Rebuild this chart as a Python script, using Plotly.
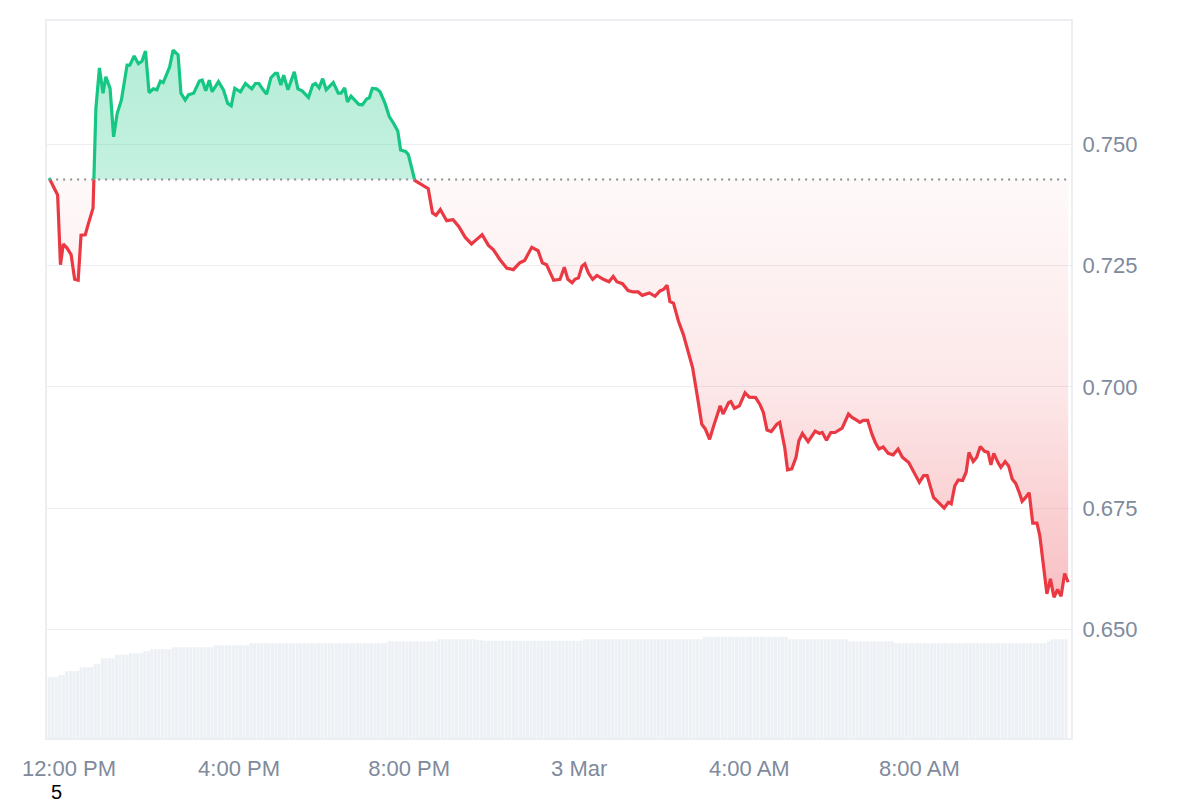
import pandas as pd
import plotly.graph_objects as go

# ---------------- data ----------------
START = "2025-03-02 11:32"
BASELINE = 0.7428

minutes = [0, 6, 12, 16, 20, 25, 31, 36, 41, 45, 51, 55, 62, 66, 71, 76, 80, 86, 91, 96,
           102, 110, 114, 120, 126, 131, 136, 141, 147, 152, 157, 161, 170, 175, 182, 186, 192, 197, 204, 212,
           216, 221, 226, 230, 239, 246, 252, 257, 262, 270, 277, 281, 286, 291, 296, 302, 307, 313, 319, 322,
           327, 331, 337, 346, 351, 357, 366, 372, 376, 381, 386, 391, 396, 401, 408, 412, 417, 421, 426, 432,
           437, 442, 448, 452, 456, 462, 467, 474, 480, 486, 492, 496, 503, 507, 516, 525, 535, 541, 546, 552,
           561, 570, 578, 587, 596, 603, 611, 620, 627, 636, 646, 655, 664, 671, 681, 690, 696, 702, 712, 721,
           727, 732, 738, 742, 747, 752, 756, 761, 767, 773, 782, 790, 796, 801, 809, 817, 824, 831, 837, 847,
           855, 862, 867, 872, 876, 881, 888, 895, 903, 908, 915, 921, 926, 932, 937, 942, 947, 951, 959, 962,
           967, 974, 982, 988, 997, 1003, 1008, 1013, 1019, 1027, 1031, 1038, 1042, 1048, 1054, 1058, 1063, 1071, 1081, 1087,
           1091, 1097, 1103, 1109, 1119, 1128, 1133, 1140, 1144, 1149, 1155, 1161, 1166, 1171, 1177, 1184, 1191, 1198, 1204, 1213,
           1220, 1228, 1234, 1239, 1248, 1255, 1263, 1269, 1273, 1278, 1283, 1289, 1294, 1298, 1304, 1309, 1314, 1320, 1325, 1329,
           1333, 1339, 1343, 1349, 1354, 1359, 1364, 1369, 1373, 1378, 1383, 1388, 1394, 1398, 1403, 1408, 1413, 1418, 1423, 1428,
           1433, 1438]

prices = [0.7431, 0.7414, 0.7396, 0.7252, 0.7295, 0.7287, 0.7273, 0.7222, 0.7220, 0.7313, 0.7314, 0.7335, 0.7369, 0.7575, 0.7658, 0.7606, 0.7640, 0.7616, 0.7516, 0.7564,
          0.7592, 0.7664, 0.7664, 0.7683, 0.7667, 0.7672, 0.7693, 0.7607, 0.7615, 0.7613, 0.7631, 0.7628, 0.7660, 0.7695, 0.7685, 0.7606, 0.7592, 0.7603, 0.7606, 0.7631,
          0.7633, 0.7611, 0.7633, 0.7609, 0.7630, 0.7613, 0.7585, 0.7580, 0.7616, 0.7609, 0.7626, 0.7621, 0.7615, 0.7626, 0.7626, 0.7613, 0.7604, 0.7638, 0.7647, 0.7647,
          0.7623, 0.7643, 0.7613, 0.7650, 0.7615, 0.7611, 0.7597, 0.7623, 0.7626, 0.7617, 0.7636, 0.7613, 0.7621, 0.7628, 0.7606, 0.7606, 0.7617, 0.7588, 0.7600, 0.7590,
          0.7583, 0.7582, 0.7594, 0.7597, 0.7616, 0.7615, 0.7609, 0.7585, 0.7558, 0.7544, 0.7528, 0.7489, 0.7486, 0.7479, 0.7426, 0.7418, 0.7409, 0.7359, 0.7354, 0.7366,
          0.7343, 0.7345, 0.7331, 0.7309, 0.7295, 0.7304, 0.7314, 0.7292, 0.7283, 0.7263, 0.7245, 0.7242, 0.7256, 0.7261, 0.7288, 0.7281, 0.7256, 0.7252, 0.7220, 0.7222,
          0.7247, 0.7222, 0.7215, 0.7222, 0.7225, 0.7249, 0.7254, 0.7235, 0.7222, 0.7230, 0.7222, 0.7217, 0.7228, 0.7217, 0.7213, 0.7199, 0.7196, 0.7196, 0.7189, 0.7194,
          0.7187, 0.7198, 0.7201, 0.7210, 0.7176, 0.7173, 0.7136, 0.7108, 0.7064, 0.7040, 0.6978, 0.6923, 0.6913, 0.6892, 0.6916, 0.6940, 0.6961, 0.6944, 0.6968, 0.6970,
          0.6956, 0.6961, 0.6988, 0.6979, 0.6978, 0.6964, 0.6947, 0.6911, 0.6908, 0.6923, 0.6927, 0.6875, 0.6829, 0.6831, 0.6855, 0.6889, 0.6904, 0.6887, 0.6909, 0.6904,
          0.6906, 0.6890, 0.6906, 0.6906, 0.6915, 0.6944, 0.6937, 0.6931, 0.6927, 0.6931, 0.6931, 0.6903, 0.6885, 0.6872, 0.6876, 0.6863, 0.6860, 0.6872, 0.6855, 0.6844,
          0.6824, 0.6803, 0.6817, 0.6817, 0.6772, 0.6762, 0.6750, 0.6762, 0.6759, 0.6796, 0.6808, 0.6807, 0.6824, 0.6865, 0.6846, 0.6855, 0.6877, 0.6867, 0.6865, 0.6839,
          0.6863, 0.6844, 0.6834, 0.6846, 0.6837, 0.6810, 0.6801, 0.6782, 0.6764, 0.6772, 0.6782, 0.6719, 0.6719, 0.6693, 0.6635, 0.6573, 0.6604, 0.6566, 0.6582, 0.6568,
          0.6615, 0.6597]

# 5-minute volume bars (millions)
VOL_START = "2025-03-02 11:32"
volume_m = [
    24.4, 24.4, 24.4, 25.2, 25.2, 26.8, 26.8, 26.8, 26.8, 28.4, 28.4, 28.4, 28.4, 29.6, 29.6, 32.0, 32.0, 32.0, 32.0, 33.4, 33.4, 33.4, 33.4, 34.0,
    34.0, 34.0, 34.0, 34.8, 34.8, 35.6, 35.6, 35.6, 35.6, 35.6, 35.6, 36.4, 36.4, 36.4, 36.4, 36.4, 36.4, 36.4, 36.4, 36.4, 36.4, 36.4, 36.4, 37.2,
    37.2, 37.2, 37.2, 37.2, 37.2, 37.2, 37.2, 37.2, 37.2, 38.0, 38.0, 38.0, 38.0, 38.0, 38.0, 38.0, 38.0, 38.0, 38.0, 38.0, 38.0, 38.0, 38.0, 38.0,
    38.0, 38.0, 38.0, 38.0, 38.0, 38.0, 38.0, 38.0, 38.0, 38.0, 38.0, 38.0, 38.0, 38.0, 38.0, 38.0, 38.0, 38.0, 38.0, 38.0, 38.0, 38.0, 38.0, 38.0,
    38.8, 38.8, 38.8, 38.8, 38.8, 38.8, 38.8, 38.8, 38.8, 38.8, 38.8, 38.8, 38.8, 38.8, 39.6, 39.6, 39.6, 39.6, 39.6, 39.6, 39.6, 39.6, 39.6, 39.6,
    39.6, 39.2, 39.2, 39.0, 39.0, 39.0, 39.0, 39.0, 39.0, 39.0, 39.0, 39.0, 39.0, 39.0, 39.0, 39.0, 39.0, 39.0, 39.0, 39.0, 39.0, 39.0, 39.0, 39.0,
    39.0, 39.0, 39.0, 39.0, 39.0, 39.0, 39.0, 39.6, 39.6, 39.6, 39.6, 39.6, 39.6, 39.6, 39.6, 39.6, 39.6, 39.6, 39.6, 39.6, 39.6, 39.6, 39.6, 39.6,
    39.6, 39.6, 39.6, 39.6, 39.6, 39.6, 39.6, 39.6, 39.6, 39.6, 39.6, 39.6, 39.6, 39.6, 39.6, 39.6, 39.6, 40.6, 40.6, 40.6, 40.6, 40.6, 40.6, 40.6,
    40.6, 40.6, 40.6, 40.6, 40.6, 40.6, 40.6, 40.6, 40.6, 40.6, 40.6, 40.6, 40.6, 40.6, 40.6, 40.6, 40.6, 39.6, 39.6, 39.6, 39.6, 39.6, 39.6, 39.6,
    39.6, 39.6, 39.6, 39.6, 39.6, 39.6, 39.6, 39.6, 39.6, 39.6, 38.8, 38.8, 38.8, 38.8, 38.8, 38.8, 38.8, 38.8, 38.8, 38.8, 38.8, 38.8, 38.8, 38.0,
    38.0, 38.0, 38.0, 38.0, 38.0, 38.0, 38.0, 38.0, 38.0, 38.0, 38.0, 38.0, 38.0, 38.0, 38.0, 38.0, 38.0, 38.0, 38.0, 38.0, 38.0, 38.0, 38.0, 38.0,
    38.0, 38.0, 38.0, 38.0, 38.0, 38.0, 38.0, 38.0, 38.0, 38.0, 38.0, 38.0, 38.0, 38.0, 38.0, 38.0, 38.0, 38.0, 38.8, 39.6, 39.6, 39.6, 39.6, 39.6,
]

xtick_times = ["2025-03-02 12:00", "2025-03-02 16:00", "2025-03-02 20:00",
               "2025-03-03 00:00", "2025-03-03 04:00", "2025-03-03 08:00"]
xtick_labels = ["12:00 PM", "4:00 PM", "8:00 PM", "3 Mar", "4:00 AM", "8:00 AM"]
ytick_vals = [0.650, 0.675, 0.700, 0.725, 0.750]
ytick_labels = ["0.650", "0.675", "0.700", "0.725", "0.750"]

GREEN = "#16c784"
RED = "#ea3943"
LABEL = "#808a9d"
GRID = "#eceef2"

t0 = pd.Timestamp(START)


def ts(m):
    return t0 + pd.to_timedelta(m, unit="min")


def split(mins, vals, base):
    ups, downs = [], []
    cur = [(mins[0], vals[0])]
    up = vals[0] >= base
    for i in range(1, len(vals)):
        m1, p1 = mins[i], vals[i]
        a1 = p1 >= base
        if a1 != up:
            m0, p0 = mins[i - 1], vals[i - 1]
            mc = m0 + (base - p0) / (p1 - p0) * (m1 - m0)
            cur.append((mc, base))
            (ups if up else downs).append(cur)
            cur = [(mc, base)]
            up = a1
        cur.append((m1, p1))
    (ups if up else downs).append(cur)
    return ups, downs


ups, downs = split(minutes, prices, BASELINE)


def line_xy(segs):
    xs, ys = [], []
    for s in segs:
        xs += [ts(m) for m, _ in s] + [None]
        ys += [p for _, p in s] + [None]
    return xs, ys


def poly_xy(segs, base):
    xs, ys = [], []
    for s in segs:
        pts = [(s[0][0], base)] + s + [(s[-1][0], base)]
        xs += [ts(m) for m, _ in pts] + [None]
        ys += [p for _, p in pts] + [None]
    return xs, ys


fig = go.Figure()

# volume bars
vol_t0 = pd.Timestamp(VOL_START)
vol_times = [vol_t0 + pd.Timedelta(minutes=5 * i) for i in range(len(volume_m))]
fig.add_trace(go.Bar(x=vol_times, y=volume_m, yaxis="y2", marker_color="#edf0f4",
                     marker_line_width=0, hoverinfo="skip", showlegend=False))

# fills
gx, gy = poly_xy(ups, BASELINE)
fig.add_trace(go.Scatter(x=gx, y=gy, mode="none", fill="toself",
                         fillcolor="rgba(22,199,132,0.30)",
                         fillgradient=dict(type="vertical",
                                           colorscale=[[0, "rgba(22,199,132,0.25)"], [1, "rgba(22,199,132,0.32)"]],
                                           start=BASELINE, stop=max(prices)),
                         hoverinfo="skip", showlegend=False))
rx, ry = poly_xy(downs, BASELINE)
fig.add_trace(go.Scatter(x=rx, y=ry, mode="none", fill="toself",
                         fillcolor="rgba(234,57,67,0.12)",
                         fillgradient=dict(type="vertical",
                                           colorscale=[[0, "rgba(234,57,67,0.32)"], [0.5, "rgba(234,57,67,0.12)"], [1, "rgba(234,57,67,0.03)"]],
                                           start=min(prices), stop=BASELINE),
                         hoverinfo="skip", showlegend=False))

# lines
lx, ly = line_xy(ups)
fig.add_trace(go.Scatter(x=lx, y=ly, mode="lines", line=dict(color=GREEN, width=3.2),
                         showlegend=False))
lx, ly = line_xy(downs)
fig.add_trace(go.Scatter(x=lx, y=ly, mode="lines", line=dict(color=RED, width=3.2),
                         showlegend=False))

# baseline
fig.add_shape(type="line", xref="x", yref="y", x0=ts(minutes[0]), x1=ts(minutes[-1]),
              y0=BASELINE, y1=BASELINE, line=dict(color="#8e8e8e", width=2, dash="2px,5px"))

fig.add_annotation(text="5", xref="paper", yref="paper", x=0.0088, y=-0.0751,
                   xanchor="center", yanchor="middle", showarrow=False,
                   font=dict(size=20, color="#000000", family="Arial, Liberation Sans"))

fig.update_layout(
    width=1200, height=800,
    margin=dict(l=39, r=137, t=11, b=70),
    paper_bgcolor="white", plot_bgcolor="white",
    bargap=0.12,
    font=dict(family="Arial, Liberation Sans, sans-serif", size=22, color=LABEL),
    xaxis=dict(type="date", range=[ts(-3), ts(1442)],
               tickvals=xtick_times, ticktext=xtick_labels,
               showgrid=False, zeroline=False, showline=True, mirror=True,
               linecolor="#eceef1", linewidth=2, ticks="", ticklabelstandoff=10,
               tickfont=dict(size=22, color=LABEL)),
    yaxis=dict(side="right", range=[0.62757, 0.7755],
               tickvals=ytick_vals, ticktext=ytick_labels,
               showgrid=True, gridcolor=GRID, gridwidth=1, zeroline=False,
               showline=True, mirror=True, linecolor="#eceef1", linewidth=2,
               ticks="", ticklabelstandoff=5, tickfont=dict(size=22, color=LABEL)),
    yaxis2=dict(overlaying="y", range=[0, 287.6], visible=False, showgrid=False),
    showlegend=False,
)

fig.write_html("out.html", config={"displayModeBar": False})
